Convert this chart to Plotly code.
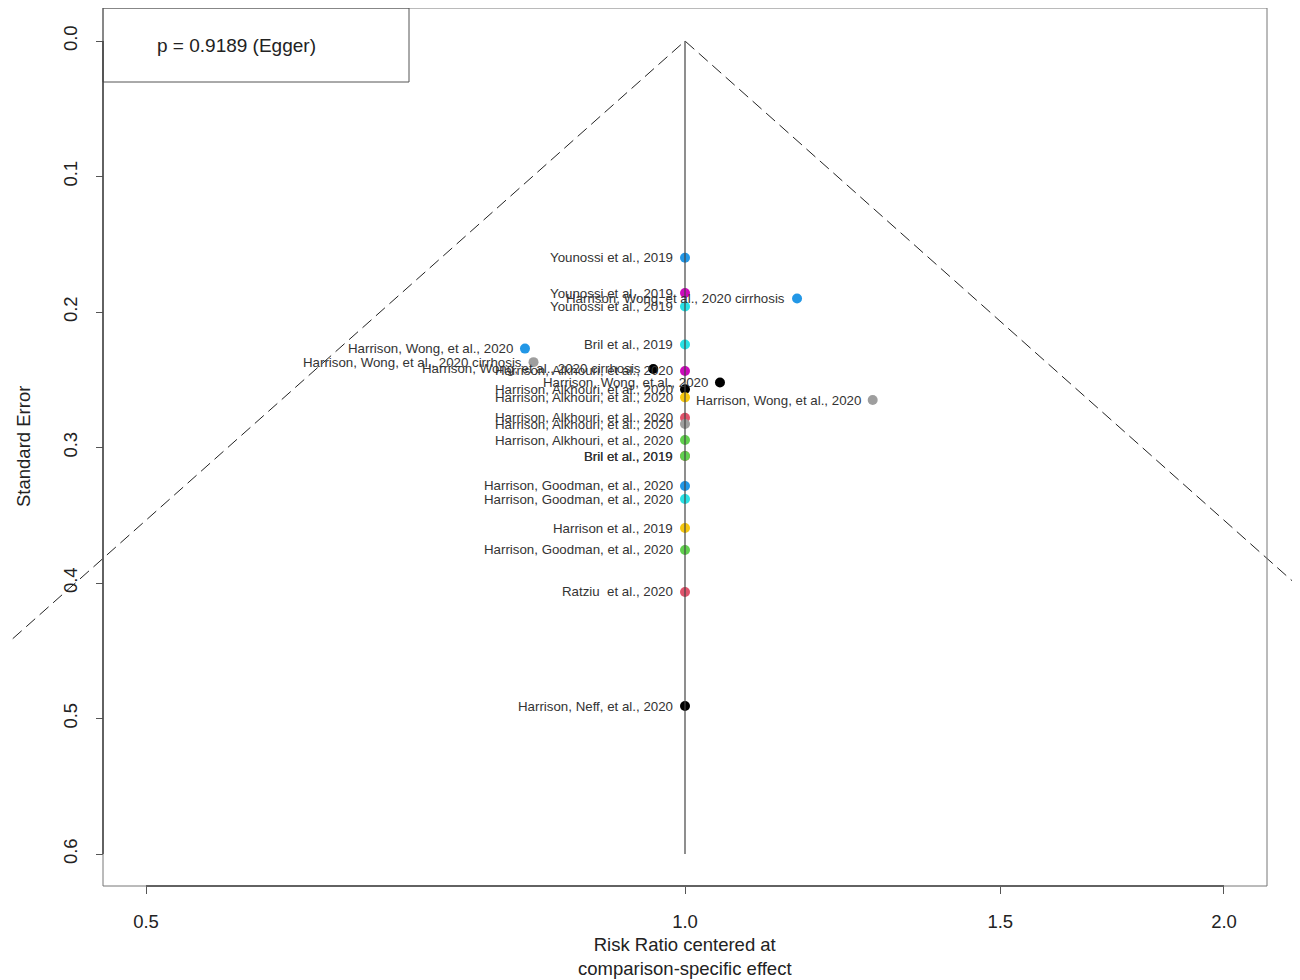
import numpy as np
import plotly.graph_objects as go

# ---- data ----
studies = [
    "Younossi et al., 2019",
    "Younossi et al., 2019",
    "Harrison, Wong, et al., 2020 cirrhosis",
    "Younossi et al., 2019",
    "Bril et al., 2019",
    "Harrison, Wong, et al., 2020",
    "Harrison, Wong, et al., 2020 cirrhosis",
    "Harrison, Wong, et al., 2020 cirrhosis",
    "Harrison, Alkhouri, et al., 2020",
    "Harrison, Wong, et al., 2020",
    "Harrison, Alkhouri, et al., 2020",
    "Harrison, Alkhouri, et al., 2020",
    "Harrison, Wong, et al., 2020",
    "Harrison, Alkhouri, et al., 2020",
    "Harrison, Alkhouri, et al., 2020",
    "Harrison, Alkhouri, et al., 2020",
    "Bril et al., 2019",
    "Bril et al., 2019",
    "Harrison, Goodman, et al., 2020",
    "Harrison, Goodman, et al., 2020",
    "Harrison et al., 2019",
    "Harrison, Goodman, et al., 2020",
    "Ratziu  et al., 2020",
    "Harrison, Neff, et al., 2020",
]
risk_ratio = [1.0, 1.0, 1.155, 1.0, 1.0, 0.814, 0.823, 0.960, 1.0, 1.046, 1.0, 1.0,
              1.273, 1.0, 1.0, 1.0, 1.0, 1.0, 1.0, 1.0, 1.0, 1.0, 1.0, 1.0]
std_error = [0.160, 0.186, 0.190, 0.196, 0.224, 0.227, 0.237, 0.242, 0.2435, 0.252,
             0.257, 0.263, 0.265, 0.278, 0.2827, 0.2945, 0.3063, 0.3063, 0.3284,
             0.338, 0.3594, 0.3756, 0.4066, 0.4908]
point_colors = ["#2297E6", "#CD0BBC", "#2297E6", "#28E2E5", "#28E2E5", "#2297E6",
                "#9E9E9E", "#000000", "#CD0BBC", "#000000", "#000000", "#F5C710",
                "#9E9E9E", "#DF536B", "#9E9E9E", "#61D04F", "#DF536B", "#61D04F",
                "#2297E6", "#28E2E5", "#F5C710", "#61D04F", "#DF536B", "#000000"]
x_ticks = [0.5, 1.0, 1.5, 2.0]
x_ticklabels = ["0.5", "1.0", "1.5", "2.0"]
y_ticks = [0.0, 0.1, 0.2, 0.3, 0.4, 0.5, 0.6]
y_ticklabels = ["0.0", "0.1", "0.2", "0.3", "0.4", "0.5", "0.6"]
egger_text = "p = 0.9189 (Egger)"

# ---- layout geometry (page body adds an 8px offset) ----
OFF = 8
W, H = 1300 - OFF, 980 - OFF
PLOT_L, PLOT_R, PLOT_T, PLOT_B = 10, 1300, 8, 886   # page pixels of plotting area
ML, MR, MT, MB = PLOT_L - OFF, 1300 - PLOT_R, PLOT_T - OFF, 980 - PLOT_B
PW, PH = PLOT_R - PLOT_L, PLOT_B - PLOT_T
xr = [-0.37699, 0.34348]          # log10 range
yr = [0.6236, -0.02435]           # reversed

def xp(px):
    return (px - PLOT_L) / PW

def yp(py):
    return (PLOT_B - py) / PH

def xdata_paper(v):
    return (np.log10(v) - xr[0]) / (xr[1] - xr[0])

def ydata_paper(v):
    return (yr[0] - v) / (yr[0] - yr[1])

FONT = "Liberation Sans, Arial, Helvetica, sans-serif"
fig = go.Figure()

# funnel (pseudo 95% CI)
se_f = np.array([0.75, 0.0, 0.75])
fig.add_trace(go.Scatter(
    x=np.exp(np.array([-1.96, 0.0, 1.96]) * se_f), y=se_f, mode="lines",
    line=dict(color="#222222", width=1, dash="12px,6px"),
    hoverinfo="skip", showlegend=False))

# study points
fig.add_trace(go.Scatter(
    x=risk_ratio, y=std_error, mode="markers",
    marker=dict(size=10, color=point_colors, line=dict(width=0)),
    text=studies, hoverinfo="text", showlegend=False))

# vertical reference line at RR = 1 (drawn on top of points)
fig.add_trace(go.Scatter(
    x=[1.0, 1.0], y=[y_ticks[0], y_ticks[-1]], mode="lines",
    line=dict(color="#444444", width=1.2),
    hoverinfo="skip", showlegend=False))

annotations = []
for s, r, e in zip(studies, risk_ratio, std_error):
    annotations.append(dict(
        x=np.log10(r), y=e, xref="x", yref="y", text=s, showarrow=False,
        xanchor="right", yanchor="middle", xshift=-10,
        font=dict(family=FONT, size=13.3, color="#333333")))

annotations += [
    dict(x=xp(155), y=yp(46), xref="paper", yref="paper", text=egger_text,
         showarrow=False, xanchor="left", yanchor="middle",
         font=dict(family=FONT, size=19, color="#222222")),
    dict(x=xp(685), y=yp(956), xref="paper", yref="paper",
         text="Risk Ratio centered at<br>comparison-specific effect",
         showarrow=False, xanchor="center", yanchor="middle",
         font=dict(family=FONT, size=18.5, color="#222222")),
    dict(x=xp(23), y=yp(447), xref="paper", yref="paper", text="Standard Error",
         showarrow=False, textangle=-90, xanchor="center", yanchor="middle",
         font=dict(family=FONT, size=18.5, color="#222222")),
]

shapes = [
    # plot frame
    dict(type="rect", xref="paper", yref="paper", x0=xp(103), x1=xp(1267),
         y0=0, y1=1, line=dict(color="#777777", width=1)),
    # legend box
    dict(type="rect", xref="paper", yref="paper", x0=xp(103), x1=xp(409),
         y0=yp(82), y1=1, line=dict(color="#555555", width=1)),
    # axis lines spanning tick range
    dict(type="line", xref="paper", yref="paper",
         x0=xdata_paper(x_ticks[0]), x1=xdata_paper(x_ticks[-1]), y0=0, y1=0,
         line=dict(color="#444444", width=1.5)),
    dict(type="line", xref="paper", yref="paper", x0=xp(103), x1=xp(103),
         y0=ydata_paper(y_ticks[0]), y1=ydata_paper(y_ticks[-1]),
         line=dict(color="#444444", width=1.5)),
]

fig.update_layout(
    width=W, height=H,
    margin=dict(l=ML, r=MR, t=MT, b=MB, pad=0),
    paper_bgcolor="white", plot_bgcolor="white",
    font=dict(family=FONT, color="#222222"),
    showlegend=False,
    annotations=annotations, shapes=shapes,
    xaxis=dict(type="log", range=xr, showgrid=False, zeroline=False,
               showline=False, tickmode="array", tickvals=x_ticks,
               ticktext=x_ticklabels, ticks="outside", ticklen=7,
               tickcolor="#555555", tickfont=dict(size=18.5, color="#222222"),
               ticklabelstandoff=12),
    yaxis=dict(range=yr, showgrid=False, zeroline=False, showline=False,
               anchor="free", position=xp(103), side="left",
               tickmode="array", tickvals=y_ticks, ticktext=y_ticklabels,
               ticks="outside", ticklen=7, tickcolor="#555555", tickangle=-90,
               tickfont=dict(size=18.5, color="#222222"), ticklabelstandoff=12),
)

fig.write_html("out.html")
